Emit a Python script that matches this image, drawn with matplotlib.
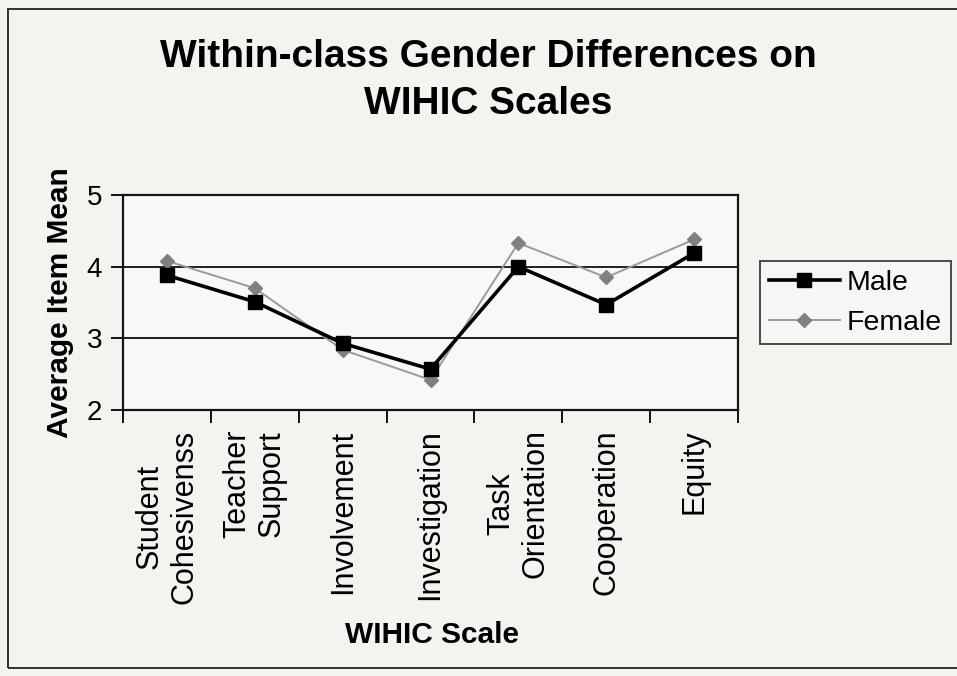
import numpy as np
import matplotlib.pyplot as plt
from matplotlib.patches import Rectangle

# data
categories = ["Student\nCohesivenss", "Teacher\nSupport", "Involvement",
              "Investigation", "Task\nOrientation", "Cooperation", "Equity"]
male = [3.88, 3.51, 2.93, 2.57, 4.00, 3.47, 4.19]
female = [4.08, 3.70, 2.84, 2.42, 4.33, 3.85, 4.38]
yticks = [2, 3, 4, 5]

plt.rcParams['font.family'] = ['Liberation Sans', 'DejaVu Sans']

W, H = 957, 676
fig = plt.figure(figsize=(W / 100, H / 100), dpi=100, facecolor='#f3f3f0')

# plot area in pixels: left 123, right 738, top 195, bottom 410
ax = fig.add_axes([123 / W, 1 - 410 / H, (738 - 123) / W, (410 - 195) / H])
ax.set_facecolor('#f8f8f6')

x = np.arange(len(categories))
ax.plot(x, male, color='black', lw=2.6, marker='s', ms=10, label='Male', zorder=4)
ax.plot(x, female, color='#9a9a9a', lw=1.4, marker='D', ms=7.5,
        mfc='#808080', mec='#808080', label='Female', zorder=3)

ax.set_xlim(-0.5, len(categories) - 0.5)
ax.set_ylim(2, 5)
ax.set_yticks(yticks)
ax.set_yticklabels([str(v) for v in yticks], fontsize=20)
for v in yticks[1:-1]:
    ax.axhline(v, color='#202020', lw=1.4, zorder=1)

# tick marks between categories, labels at category centers
ax.set_xticks(np.arange(-0.5, len(categories), 1.0))
ax.set_xticklabels([])
ax.set_xticks(x, minor=True)
ax.set_xticklabels(categories, minor=True, rotation=90, fontsize=22,
                   ha='center', va='top', multialignment='center')
ax.tick_params(axis='x', which='minor', length=0, pad=14)
ax.tick_params(axis='x', which='major', direction='out', length=9, width=1.3)
ax.tick_params(axis='y', direction='out', length=9, width=1.3, pad=6)

for s in ax.spines.values():
    s.set_linewidth(1.6)
    s.set_color('#151515')

ax.set_ylabel('Average Item Mean', fontsize=21.5, fontweight='bold', labelpad=9)
fig.text(432 / W, 1 - 635 / H, 'WIHIC Scale', fontsize=21.5, fontweight='bold',
         ha='center', va='center')

fig.text(488 / W, 1 - 57 / H, 'Within-class Gender Differences on',
         fontsize=28, fontweight='bold', ha='center', va='center')
fig.text(488 / W, 1 - 104 / H, 'WIHIC Scales',
         fontsize=28, fontweight='bold', ha='center', va='center')

leg = fig.legend(loc='upper left', bbox_to_anchor=(760 / W, 1 - 261 / H),
                 fontsize=20.5, frameon=True, fancybox=False, handlelength=2.5,
                 borderpad=0.3, labelspacing=0.5, handletextpad=0.25,
                 borderaxespad=0)
leg.get_frame().set_edgecolor('#202020')
leg.get_frame().set_linewidth(1.4)
leg.get_frame().set_facecolor('#f8f8f6')

# outer chart border of the scan
fig.patches.append(Rectangle((8 / W, 1 - 668 / H), 1.0, (668 - 9) / H,
                             transform=fig.transFigure, fill=False,
                             edgecolor='#303030', lw=1.4))

fig.savefig('out.png', dpi=100, facecolor=fig.get_facecolor())
